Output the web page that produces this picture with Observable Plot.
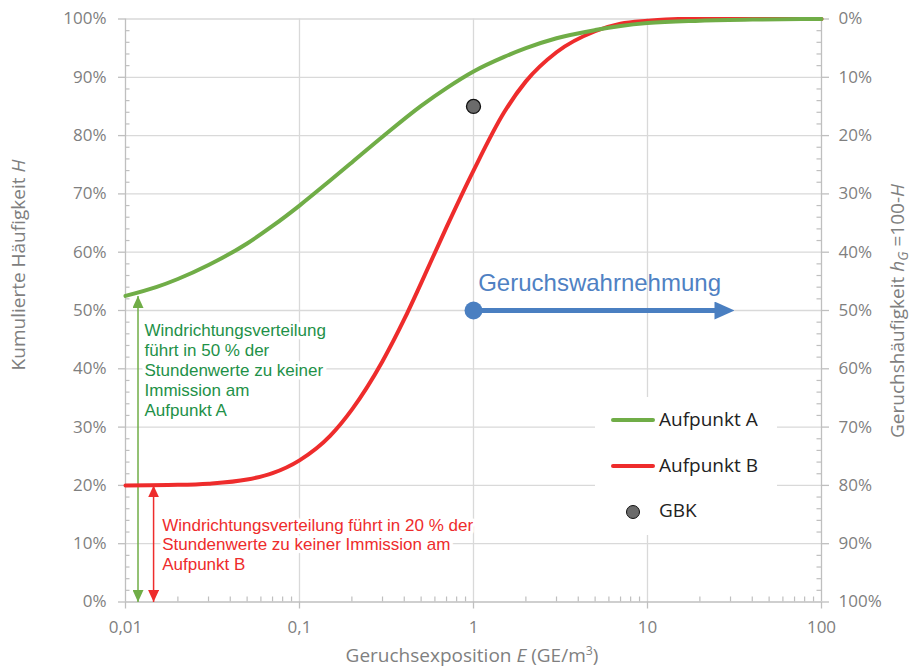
<!DOCTYPE html>
<html><head><meta charset="utf-8">
<script src="https://cdn.jsdelivr.net/npm/d3@7"></script>
<script src="https://cdn.jsdelivr.net/npm/@observablehq/plot@0.6"></script>
<style>
body{margin:0;background:#fff;}
#wrap{position:relative;width:911px;height:670px;font-family:'Open Sans',sans-serif;overflow:hidden;}
.ttl{position:absolute;color:#7f7f7f;font-size:19px;line-height:19px;white-space:nowrap;}
.ttl sub{font-size:0.72em;line-height:0;}
.ttl sup{font-size:0.65em;line-height:0;}
#legend{position:absolute;left:595px;top:397px;width:182px;height:138px;background:#fff;}
#legend .sw{position:absolute;left:16px;width:44px;height:4px;border-radius:2px;}
#legend .lt{position:absolute;left:64px;font-size:19px;line-height:19px;color:#222;white-space:nowrap;}
#legend .dt{position:absolute;left:31px;top:108px;width:12px;height:12px;border-radius:50%;background:#6b6b6b;border:1.3px solid #111;}
</style></head>
<body>
<div id="wrap"></div>
<script>
// ---- data ----
const xMajor = [0.01, 0.1, 1, 10, 100];
const xTickLabels = ["0,01", "0,1", "1", "10", "100"];
const xMinor = [0.02,0.03,0.04,0.05,0.06,0.07,0.08,0.09,
                0.2,0.3,0.4,0.5,0.6,0.7,0.8,0.9,
                2,3,4,5,6,7,8,9,
                20,30,40,50,60,70,80,90];
const yMajor = [0,10,20,30,40,50,60,70,80,90,100];
const yLeftLabels  = ["0%","10%","20%","30%","40%","50%","60%","70%","80%","90%","100%"];
const yRightLabels = ["100%","90%","80%","70%","60%","50%","40%","30%","20%","10%","0%"];
const yMinor = [2,4,6,8,12,14,16,18,22,24,26,28,32,34,36,38,42,44,46,48,
                52,54,56,58,62,64,66,68,72,74,76,78,82,84,86,88,92,94,96,98];

// Aufpunkt A (green): exposure E (GE/m³) and cumulative frequency H (%)
const expoA  = [0.01, 0.015, 0.02, 0.03, 0.05, 0.07, 0.1, 0.15, 0.2, 0.3, 0.5, 0.7, 1, 1.5, 2, 3, 5, 7, 10, 20, 40, 100];
const haeufA = [52.5, 54.0, 55.4, 57.8, 61.5, 64.5, 68.0, 72.3, 75.4, 79.8, 85.1, 88.15, 91.0, 93.5, 95.0, 96.7, 98.1, 98.8, 99.3, 99.7, 99.9, 100];
// Aufpunkt B (red)
const expoB  = [0.01, 0.02, 0.03, 0.05, 0.07, 0.1, 0.15, 0.2, 0.3, 0.4, 0.5, 0.7, 1, 1.5, 2, 3, 5, 7, 10, 15, 100];
const haeufB = [20.0, 20.1, 20.3, 21.0, 22.1, 24.3, 28.5, 33.0, 41.3, 48.5, 54.7, 64.3, 74.0, 84.0, 89.3, 94.3, 97.9, 99.2, 99.7, 100, 100];
// GBK point
const gbkE = [1];
const gbkH = [85];
// Geruchswahrnehmung arrow
const perceptE = [1, 29.2];
const perceptH = [50, 50];
// "no immission" arrows
const noImmE = [0.0118, 0.0145];
const noImmTop = [52.5, 20];
const noImmColors = ["#70ad47", "#ee2c2c"];
// annotation texts
const noteTexts = [
  "Windrichtungsverteilung\nführt in 50 % der\nStundenwerte zu keiner\nImmission am\nAufpunkt A",
  "Windrichtungsverteilung führt in 20 % der\nStundenwerte zu keiner Immission am\nAufpunkt B"
];
const noteE = [0.01286, 0.01625];
const noteH = [48.0, 14.7];
const noteColors = ["#1e9148", "#ee2c2c"];
const perceptLabel = "Geruchswahrnehmung";

// ---- layout ----
const W = 911, Hh = 670;
const mL = 125, mR = 90, mT = 18.5, mB = 68.5;
const plotW = W - mL - mR, plotH = Hh - mT - mB;
const axisGray = "#bfbfbf", gridGray = "#d9d9d9", labelGray = "#7f7f7f";
const blue = "#4a7fc1";

function tri(len, wid, ref) {
  return (color) => {
    const m = d3.create("svg:marker")
      .attr("viewBox", `0 ${-wid/2} ${len} ${wid}`)
      .attr("markerUnits", "userSpaceOnUse")
      .attr("markerWidth", len).attr("markerHeight", wid)
      .attr("refX", ref).attr("refY", 0)
      .attr("orient", "auto-start-reverse")
      .attr("fill", color).attr("stroke", "none");
    m.append("path").attr("d", `M0,${-wid/2}L${len},0L0,${wid/2}Z`);
    return m.node();
  };
}
const smallHead = tri(12, 11, 12);
const bigHead = tri(20, 18, 14);

const chart = Plot.plot({
  width: W, height: Hh,
  marginLeft: mL, marginRight: mR, marginTop: mT, marginBottom: mB,
  style: {fontFamily: "'Open Sans', sans-serif", fontSize: "17px", background: "white", color: labelGray},
  x: {type: "log", domain: [0.01, 100]},
  y: {domain: [0, 100]},
  marks: [
    Plot.gridX(xMajor.slice(1, -1), {stroke: gridGray, strokeOpacity: 1, strokeWidth: 1.3}),
    Plot.gridY(yMajor.slice(1), {stroke: gridGray, strokeOpacity: 1, strokeWidth: 1.3}),
    Plot.ruleY([0], {stroke: axisGray, strokeWidth: 1.3}),
    Plot.ruleX([0.01, 100], {stroke: axisGray, strokeWidth: 1.3}),
    Plot.tickX(xMinor, {x: d => d, stroke: axisGray, strokeWidth: 1.2, insetTop: plotH - 5}),
    Plot.tickY(yMinor, {y: d => d, stroke: axisGray, strokeWidth: 1.2, insetRight: plotW - 4.5}),
    Plot.tickY(yMinor, {y: d => d, stroke: axisGray, strokeWidth: 1.2, insetLeft: plotW - 4.5}),
    Plot.axisX(xMajor, {tickFormat: d => xTickLabels[xMajor.indexOf(d)], tickSize: 7, tickPadding: 12,
      stroke: axisGray, strokeWidth: 1.3, fill: labelGray, label: null}),
    Plot.axisY(yMajor, {anchor: "left", tickFormat: d => yLeftLabels[yMajor.indexOf(d)], tickSize: 7, tickPadding: 12,
      stroke: axisGray, strokeWidth: 1.3, fill: labelGray, label: null}),
    Plot.axisY(yMajor, {anchor: "right", tickFormat: d => yRightLabels[yMajor.indexOf(d)], tickSize: 7, tickPadding: 10,
      stroke: axisGray, strokeWidth: 1.3, fill: labelGray, label: null}),
    // annotation texts (white halo hides grid like a text box)
    Plot.text(noteTexts, {x: noteE, y: noteH, text: d => d, fill: noteColors, stroke: "white", strokeWidth: 7,
      paintOrder: "stroke", textAnchor: "start", lineAnchor: "top", lineHeight: 1.176,
      fontSize: 17, fontFamily: "'Liberation Sans', Arial, sans-serif"}),
    // vertical arrows
    Plot.link(noImmE, {x1: noImmE, x2: noImmE, y1: [0, 0], y2: noImmTop, stroke: noImmColors, strokeWidth: 1.5,
      markerStart: smallHead, markerEnd: smallHead}),
    // curves
    Plot.line(expoB, {x: expoB, y: haeufB, stroke: "#ee2c2c", strokeWidth: 4, curve: "monotone-x"}),
    Plot.line(expoA, {x: expoA, y: haeufA, stroke: "#70ad47", strokeWidth: 4, curve: "monotone-x"}),
    // GBK
    Plot.dot(gbkE, {x: gbkE, y: gbkH, r: 7, fill: "#6b6b6b", stroke: "#111", strokeWidth: 1.3}),
    // perception arrow
    Plot.link([0], {x1: [perceptE[0]], x2: [perceptE[1]], y1: [perceptH[0]], y2: [perceptH[1]],
      stroke: blue, strokeWidth: 5, markerEnd: bigHead}),
    Plot.dot([0], {x: [perceptE[0]], y: [perceptH[0]], r: 9, fill: blue}),
    Plot.text([perceptLabel], {x: [1.064], y: [56.2], text: d => d, fill: "#4f81c3", textAnchor: "start",
      lineAnchor: "top", fontSize: 24, fontFamily: "'Liberation Sans', Arial, sans-serif"})
  ]
});

const wrap = document.getElementById("wrap");
wrap.appendChild(chart);

function addDiv(html, css, cls) {
  const d = document.createElement("div");
  if (cls) d.className = cls;
  d.innerHTML = html;
  Object.assign(d.style, css);
  wrap.appendChild(d);
  return d;
}
// axis titles
addDiv("Geruchsexposition <i>E</i> (GE/m<sup>3</sup>)", {left: "472px", top: "646px", transform: "translateX(-50%)"}, "ttl");
addDiv("Kumulierte Häufigkeit <i>H</i>", {left: "18px", top: "265px", transform: "translate(-50%,-50%) rotate(-90deg)"}, "ttl");
addDiv("Geruchshäufigkeit <i>h</i><sub><i>G</i></sub> =100-<i>H</i>", {left: "897px", top: "311px", transform: "translate(-50%,-50%) rotate(-90deg)"}, "ttl");

// legend
const lg = addDiv("", {}, null);
lg.id = "legend";
lg.innerHTML =
  '<div class="sw" style="top:21px;background:#70ad47"></div><div class="lt" style="top:13px">Aufpunkt A</div>' +
  '<div class="sw" style="top:67px;background:#ee2c2c"></div><div class="lt" style="top:59px">Aufpunkt B</div>' +
  '<div class="dt"></div><div class="lt" style="top:104px">GBK</div>';
</script>
</body></html>
